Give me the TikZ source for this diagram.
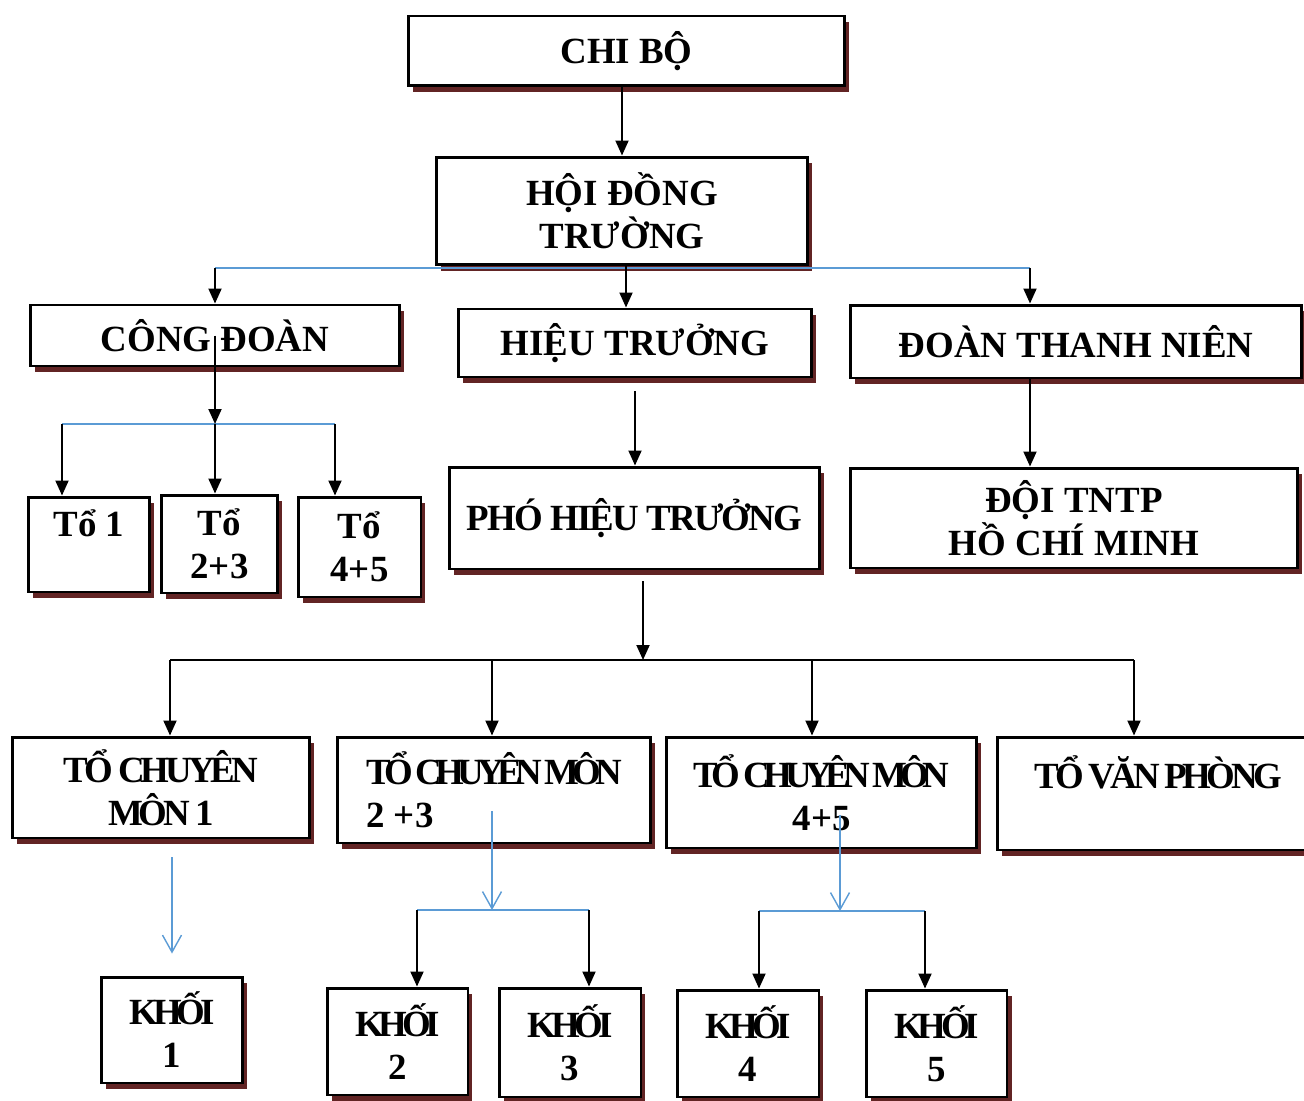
\documentclass[tikz,border=0pt]{standalone}
\usepackage{fontspec}
\setmainfont{Liberation Serif}
\usetikzlibrary{arrows.meta,shadows}
\definecolor{shadowred}{RGB}{98,36,36}
\definecolor{linkblue}{RGB}{91,155,213}
\newcommand{\tight}[2][-15]{{\addfontfeature{LetterSpace=#1}#2}}

\begin{document}
\begin{tikzpicture}[x=0.02cm,y=-0.02cm,
	box/.style={draw,line width=1.7pt,fill=white,align=center,inner sep=2pt,
		font=\fontsize{21}{24.5}\selectfont\bfseries,
		drop shadow={fill=shadowred,opacity=1,shadow xshift=0.09cm,shadow yshift=-0.12cm}},
	arr/.style={line width=1.1pt,-{Triangle[length=0.3cm,width=0.26cm]}},
	blueline/.style={line width=0.8pt,draw=linkblue},
	bluearr/.style={blueline,-{Straight Barb[length=0.34cm,width=0.38cm]}}]
				\useasboundingbox (0,0) rectangle (1304,1101);
				% upper levels
				\node[box,minimum width=8.74cm,minimum height=1.40cm] (chibo) at (626.5,51) {CHI BỘ};
				\node[box,minimum width=7.44cm,minimum height=2.16cm] (hdt) at (622,211) {HỘI ĐỒNG\\TRƯỜNG};
				\node[box,minimum width=7.40cm,minimum height=1.22cm] (congdoan) at (215,335.5) {CÔNG ĐOÀN};
				\node[box,minimum width=7.08cm,minimum height=1.36cm] (hieutruong) at (635,343) {HIỆU TRƯỞNG};
				\node[box,minimum width=9.04cm,minimum height=1.46cm] (doantn) at (1076,341.5) {ĐOÀN THANH NIÊN};
				\node[box,minimum width=2.44cm,minimum height=1.90cm] (to1) at (89,544.5) {Tổ 1\\~};
				\node[box,minimum width=2.34cm,minimum height=1.96cm] (to23) at (219.5,544) {Tổ\\2+3};
				\node[box,minimum width=2.46cm,minimum height=2.00cm] (to45) at (359.5,547) {Tổ\\4+5};
				\node[box,minimum width=7.42cm,minimum height=2.04cm] (pht) at (634.5,518) {\tight[-5]{PHÓ HIỆU TRƯỞNG}};
				\node[box,minimum width=8.96cm,minimum height=2.00cm] (doitntp) at (1074,518) {ĐỘI TNTP\\HỒ CHÍ MINH};
				% to chuyen mon
				\node[box,minimum width=5.96cm,minimum height=2.02cm] (tcm1) at (161,787.5) {\tight[-11]{TỔ CHUYÊN}\\\tight[-11]{MÔN 1}};
				\node[box,align=left,minimum width=6.28cm,minimum height=2.12cm] (tcm23) at (494,790) {\tight[-18]{TỔ CHUYÊN MÔN}\\2 +3};
				\node[box,minimum width=6.22cm,minimum height=2.22cm] (tcm45) at (821.5,792.5) {\tight[-18]{TỔ CHUYÊN MÔN}\\4+5};
				\node[box,minimum width=6.46cm,minimum height=2.26cm] (tvp) at (1158.5,793.5) {\tight[-12]{TỔ VĂN PHÒNG}\\~};
				% khoi
				\node[box,minimum width=2.84cm,minimum height=2.12cm] (khoi1) at (172,1030) {\tight[-14]{KHỐI}\\1};
				\node[box,minimum width=2.82cm,minimum height=2.14cm] (khoi2) at (397.5,1041.5) {\tight[-14]{KHỐI}\\2};
				\node[box,minimum width=2.84cm,minimum height=2.18cm] (khoi3) at (570,1042.5) {\tight[-14]{KHỐI}\\3};
				\node[box,minimum width=2.84cm,minimum height=2.14cm] (khoi4) at (748,1043.5) {\tight[-14]{KHỐI}\\4};
				\node[box,minimum width=2.82cm,minimum height=2.14cm] (khoi5) at (936.5,1043.5) {\tight[-14]{KHỐI}\\5};
				% junctions
				\coordinate (b1l) at (215,268);
				\coordinate (b1m) at (626,268);
				\coordinate (b1r) at (1030,268);
				\coordinate (c1l) at (62,424);
				\coordinate (c1m) at (215,424);
				\coordinate (c1r) at (335,424);
				\coordinate (d1) at (170,660);
				\coordinate (d2) at (492,660);
				\coordinate (d3) at (812,660);
				\coordinate (d4) at (1134,660);
				\coordinate (dm) at (643,660);
				\coordinate (e1) at (492,811);
				\coordinate (e1m) at (492,910);
				\coordinate (e1l) at (417,910);
				\coordinate (e1r) at (589,910);
				\coordinate (f1) at (840,815);
				\coordinate (f1m) at (840,911);
				\coordinate (f1l) at (759,911);
				\coordinate (f1r) at (925,911);
				% connectors
				\draw[arr] (chibo.south -| hdt.north) to (hdt.north);
				\draw[blueline] (b1l) -- (b1r);
				\draw[arr] (b1m |- hdt.south) to (b1m |- hieutruong.north);
				\draw[arr] (b1l) to (congdoan.north);
				\draw[arr] (b1r) to (b1r |- doantn.north);
				\draw[blueline] (c1l) -- (c1r);
				\draw[arr] (congdoan.center) to (c1m);
				\draw[arr] (c1l) to (c1l |- to1.north);
				\draw[arr] (c1m) to (c1m |- to23.north);
				\draw[arr] (c1r) to (c1r |- to45.north);
				\draw[arr,shorten <=0.26cm] (hieutruong.south) to (hieutruong.south |- pht.north);
				\draw[arr] (b1r |- doantn.south) to (b1r |- doitntp.north);
				\draw[line width=1.1pt] (d1) -- (d4);
				\draw[arr,shorten <=0.22cm] (dm |- pht.south) to (dm);
				\draw[arr] (d1) to (d1 |- tcm1.north);
				\draw[arr] (d2) to (d2 |- tcm23.north);
				\draw[arr] (d3) to (d3 |- tcm45.north);
				\draw[arr] (d4) to (d4 |- tvp.north);
				\draw[bluearr,shorten <=0.36cm,shorten >=0.44cm] (tcm1.south -| khoi1.north) to (khoi1.north);
				\draw[blueline] (e1l) -- (e1r);
				\draw[bluearr] (e1) to (e1m);
				\draw[arr] (e1l) to (e1l |- khoi2.north);
				\draw[arr] (e1r) to (e1r |- khoi3.north);
				\draw[blueline] (f1l) -- (f1r);
				\draw[bluearr] (f1) to (f1m);
				\draw[arr] (f1l) to (f1l |- khoi4.north);
				\draw[arr] (f1r) to (f1r |- khoi5.north);
			\end{tikzpicture}
\end{document}
